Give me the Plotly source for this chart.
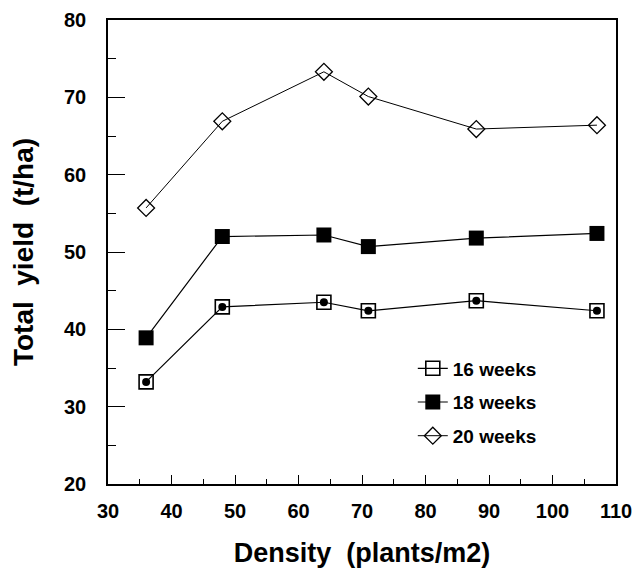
import plotly.graph_objects as go

density = [36, 48, 64, 71, 88, 107]
yield_16 = [33.2, 42.9, 43.5, 42.4, 43.7, 42.4]
yield_18 = [38.9, 52.0, 52.2, 50.7, 51.8, 52.4]
yield_20 = [55.7, 66.9, 73.3, 70.1, 65.9, 66.4]
series_names = ["16 weeks", "18 weeks", "20 weeks"]
x_ticks = [30, 40, 50, 60, 70, 80, 90, 100, 110]
y_ticks = [20, 30, 40, 50, 60, 70, 80]

FONT = "Liberation Sans, Arial, sans-serif"

fig = go.Figure()
fig.add_trace(go.Scatter(
    x=density, y=yield_16, name="<b>%s</b>" % series_names[0], mode="lines+markers", legendgroup="a",
    line=dict(color="black", width=1.2),
    marker=dict(symbol="square-open", size=14, color="black", line=dict(width=1.6, color="black")),
))
fig.add_trace(go.Scatter(
    x=density, y=yield_16, name=series_names[0], mode="markers", legendgroup="a", showlegend=False,
    marker=dict(symbol="circle", size=8, color="black"),
))
fig.add_trace(go.Scatter(
    x=density, y=yield_18, name="<b>%s</b>" % series_names[1], mode="lines+markers", legendgroup="b",
    line=dict(color="black", width=1.2),
    marker=dict(symbol="square", size=15, color="black"),
))
fig.add_trace(go.Scatter(
    x=density, y=yield_20, name="<b>%s</b>" % series_names[2], mode="lines+markers", legendgroup="c",
    line=dict(color="black", width=1.0),
    marker=dict(symbol="diamond-open", size=13, color="black", line=dict(width=1.3, color="black")),
))

fig.update_layout(
    width=635, height=578,
    margin=dict(l=108, r=19, t=20, b=94),
    plot_bgcolor="white", paper_bgcolor="white",
    font=dict(family=FONT, color="black"),
    showlegend=True,
    legend=dict(
        x=0.6, y=0.29, xanchor="left", yanchor="top",
        bgcolor="rgba(0,0,0,0)", borderwidth=0,
        font=dict(size=19, family=FONT),
        tracegroupgap=6, itemsizing="trace",
    ),
)
fig.update_xaxes(
    range=[30, 110], tickvals=x_ticks, ticktext=["<b>%d</b>" % v for v in x_ticks],
    showline=True, linecolor="black", linewidth=1.5, mirror=True,
    ticks="inside", ticklen=9, tickwidth=1.2, tickcolor="black",
    minor=dict(ticks="inside", ticklen=5, dtick=5, tickcolor="black"),
    showgrid=False, zeroline=False, automargin=False,
    tickfont=dict(size=20, family=FONT),
    ticklabelstandoff=8, ticklabeloverflow="allow",
    title=dict(text="<b>Density  (plants/m2)</b>", font=dict(size=27, family=FONT), standoff=22),
)
fig.update_yaxes(
    range=[20, 80], tickvals=y_ticks, ticktext=["<b>%d</b>" % v for v in y_ticks],
    showline=True, linecolor="black", linewidth=1.5, mirror=True,
    ticks="inside", ticklen=17, tickwidth=1.2, tickcolor="black",
    minor=dict(ticks="inside", ticklen=8, dtick=5, tickcolor="black"),
    showgrid=False, zeroline=False, automargin=False,
    tickfont=dict(size=20, family=FONT),
    ticklabelstandoff=16,
    title=dict(text="<b>Total  yield  (t/ha)</b>", font=dict(size=28, family=FONT), standoff=22),
)

fig.write_html("out.html")
